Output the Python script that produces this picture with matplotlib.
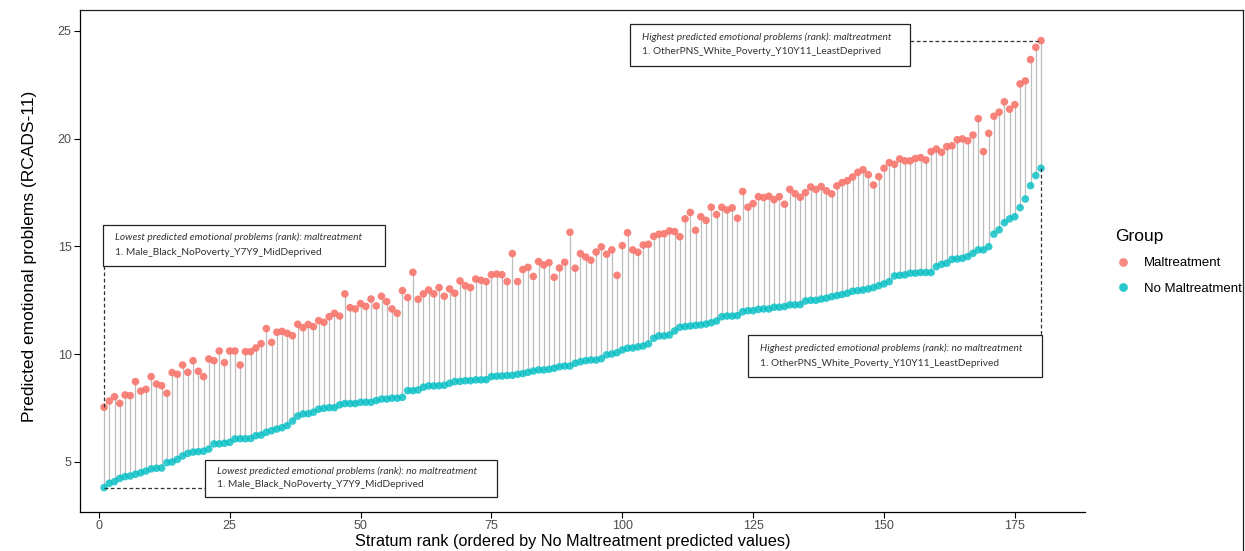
import numpy as np
import matplotlib.pyplot as plt
from matplotlib.lines import Line2D
from matplotlib.patches import Rectangle

plt.rcParams["font.family"] = ["Liberation Sans", "DejaVu Sans"]

# predicted RCADS-11 per stratum, ordered by the No Maltreatment prediction
maltreatment = [
    7.54, 7.83, 8.03, 7.72, 8.11, 8.08, 8.73, 8.29, 8.37, 8.96,
    8.62, 8.54, 8.19, 9.15, 9.07, 9.50, 9.16, 9.70, 9.21, 8.96,
    9.78, 9.70, 10.15, 9.61, 10.15, 10.15, 9.50, 10.12, 10.12, 10.29,
    10.49, 11.19, 10.55, 11.02, 11.06, 10.97, 10.86, 11.39, 11.23, 11.38,
    11.28, 11.56, 11.48, 11.74, 11.90, 11.77, 12.80, 12.16, 12.10, 12.35,
    12.22, 12.56, 12.24, 12.69, 12.44, 12.10, 11.90, 12.95, 12.63, 13.80,
    12.55, 12.80, 12.98, 12.80, 13.09, 12.69, 13.03, 12.83, 13.40, 13.18,
    13.09, 13.49, 13.43, 13.37, 13.69, 13.72, 13.69, 13.37, 14.67, 13.37,
    13.93, 14.03, 13.61, 14.30, 14.14, 14.25, 13.57, 14.00, 14.27, 15.66,
    13.99, 14.67, 14.51, 14.36, 14.74, 14.98, 14.64, 14.84, 13.66, 15.04,
    15.64, 14.84, 14.73, 15.07, 15.10, 15.47, 15.57, 15.59, 15.72, 15.69,
    15.45, 16.28, 16.58, 15.75, 16.38, 16.21, 16.82, 16.48, 16.82, 16.69,
    16.79, 16.31, 17.55, 16.82, 16.99, 17.31, 17.27, 17.33, 17.17, 17.31,
    16.96, 17.65, 17.45, 17.28, 17.50, 17.76, 17.64, 17.78, 17.58, 17.44,
    17.81, 17.96, 18.05, 18.22, 18.44, 18.56, 18.33, 17.85, 18.24, 18.63,
    18.89, 18.81, 19.06, 18.97, 18.97, 19.08, 19.12, 19.01, 19.40, 19.52,
    19.37, 19.63, 19.67, 19.95, 19.99, 19.90, 20.17, 20.93, 19.40, 20.25,
    21.04, 21.23, 21.71, 21.37, 21.58, 22.54, 22.68, 23.67, 24.24, 24.55,
]
no_maltreatment = [
    3.81, 4.01, 4.09, 4.24, 4.32, 4.35, 4.43, 4.50, 4.58, 4.68,
    4.71, 4.72, 4.97, 5.00, 5.12, 5.28, 5.40, 5.46, 5.48, 5.50,
    5.60, 5.84, 5.84, 5.87, 5.91, 6.07, 6.08, 6.08, 6.09, 6.22,
    6.25, 6.38, 6.45, 6.53, 6.59, 6.69, 6.90, 7.13, 7.23, 7.24,
    7.31, 7.45, 7.49, 7.52, 7.52, 7.65, 7.71, 7.71, 7.71, 7.77,
    7.77, 7.77, 7.85, 7.92, 7.92, 7.96, 7.96, 8.00, 8.31, 8.31,
    8.34, 8.47, 8.53, 8.53, 8.54, 8.56, 8.65, 8.73, 8.74, 8.77,
    8.77, 8.81, 8.81, 8.82, 8.96, 8.98, 8.99, 9.01, 9.02, 9.07,
    9.10, 9.16, 9.22, 9.27, 9.27, 9.30, 9.35, 9.42, 9.45, 9.45,
    9.58, 9.65, 9.70, 9.73, 9.73, 9.79, 9.97, 10.01, 10.07, 10.20,
    10.28, 10.29, 10.34, 10.38, 10.48, 10.74, 10.85, 10.85, 10.89, 11.08,
    11.25, 11.28, 11.31, 11.34, 11.36, 11.40, 11.46, 11.54, 11.74, 11.77,
    11.77, 11.79, 11.97, 12.02, 12.02, 12.08, 12.10, 12.10, 12.18, 12.18,
    12.21, 12.29, 12.29, 12.30, 12.47, 12.50, 12.50, 12.56, 12.60, 12.67,
    12.72, 12.77, 12.83, 12.92, 12.95, 12.98, 13.03, 13.09, 13.18, 13.26,
    13.37, 13.63, 13.66, 13.68, 13.76, 13.76, 13.79, 13.79, 13.79, 14.06,
    14.17, 14.22, 14.40, 14.42, 14.45, 14.53, 14.68, 14.84, 14.84, 14.99,
    15.57, 15.77, 16.10, 16.28, 16.38, 16.80, 17.20, 17.82, 18.29, 18.63,
]

groups = ["Maltreatment", "No Maltreatment"]
group_colors = ["#F8766D", "#00BFC4"]
x_ticks = [0, 25, 50, 75, 100, 125, 150, 175]
y_ticks = [5, 10, 15, 20, 25]

top_stratum = "OtherPNS_White_Poverty_Y10Y11_LeastDeprived"
bottom_stratum = "Male_Black_NoPoverty_Y7Y9_MidDeprived"

ranks = np.arange(1, len(no_maltreatment) + 1)
mal = np.array(maltreatment)
nomal = np.array(no_maltreatment)

fig = plt.figure(figsize=(12.45, 5.51), dpi=100)
ax = fig.add_axes([80 / 1245, 1 - 512 / 551, 1005 / 1245, 502 / 551])

ax.vlines(ranks, nomal, mal, color="#BDBDBD", linewidth=0.9, zorder=1)
ax.scatter(ranks, mal, s=30, color=group_colors[0], alpha=0.9,
           edgecolors="none", zorder=3)
ax.scatter(ranks, nomal, s=30, color=group_colors[1], alpha=0.8,
           edgecolors="none", zorder=3)

ax.set_xlim(-3.6, 188.4)
ax.set_ylim(2.68, 25.97)
ax.set_xticks(x_ticks)
ax.set_yticks(y_ticks)
for s in ["top", "right"]:
    ax.spines[s].set_visible(False)
for s in ["left", "bottom"]:
    ax.spines[s].set_linewidth(0.9)
ax.tick_params(direction="out", length=4, width=0.8, color="black",
               labelcolor="#4D4D4D", labelsize=9, pad=2)
ax.set_xlabel("Stratum rank (ordered by No Maltreatment predicted values)",
              fontsize=11.7)
ax.set_ylabel("Predicted emotional problems (RCADS-11)", fontsize=12.5)
ax.xaxis.set_label_coords(0.49, -0.043, transform=ax.transAxes)
ax.yaxis.set_label_coords(-0.043, 0.51, transform=ax.transAxes)


def note(x0, x1, y0, y1, title, label):
    ax.add_patch(Rectangle((x0, y0), x1 - x0, y1 - y0, facecolor="white",
                           edgecolor="#222222", linewidth=0.9, zorder=5))
    h = y1 - y0
    ax.text(x0 + 2.3, y1 - h * 0.31, title, fontsize=7.3, style="italic",
            family="Lato", color="#333333", va="center", zorder=6)
    ax.text(x0 + 2.3, y1 - h * 0.67, label, fontsize=7.3,
            family="Lato", color="#333333", va="center", zorder=6)


dash = dict(color="#333333", linestyle=(0, (3, 2)), linewidth=0.9, zorder=4)

# highest, maltreatment
note(101.5, 154.9, 23.38, 25.33,
     "Highest predicted emotional problems (rank): maltreatment", "1. " + top_stratum)
ax.plot([154.9, ranks[-1]], [mal[-1], mal[-1]], **dash)

# lowest, maltreatment
note(0.8, 54.7, 14.10, 16.0,
     "Lowest predicted emotional problems (rank): maltreatment", "1. " + bottom_stratum)
ax.plot([ranks[0], ranks[0]], [mal[0], 14.10], **dash)

# lowest, no maltreatment
note(20.3, 76.1, 3.38, 5.09,
     "Lowest predicted emotional problems (rank): no maltreatment", "1. " + bottom_stratum)
ax.plot([ranks[0], 20.3], [nomal[0], nomal[0]], **dash)

# highest, no maltreatment
note(124.0, 180.2, 8.94, 10.89,
     "Highest predicted emotional problems (rank): no maltreatment", "1. " + top_stratum)
ax.plot([ranks[-1], ranks[-1]], [nomal[-1], 10.89], **dash)

handles = [Line2D([], [], marker="o", linestyle="none", markersize=6.3,
                  markerfacecolor=c, markeredgecolor="none", alpha=0.85)
           for c in group_colors]
leg = fig.legend(handles, groups, title="Group", loc="upper left",
                 bbox_to_anchor=(1103 / 1245, 1 - 217 / 551), frameon=False,
                 fontsize=9.5, title_fontsize=12.5, alignment="left",
                 handletextpad=1.0, labelspacing=1.0, handlelength=1.2)

# screenshot frame along the top and right edge
fig.add_artist(Line2D([80 / 1245, 1243 / 1245], [1 - 10 / 551, 1 - 10 / 551],
                      transform=fig.transFigure, color="#222222", linewidth=0.9))
fig.add_artist(Line2D([1243 / 1245, 1243 / 1245], [0, 1 - 10 / 551],
                      transform=fig.transFigure, color="#222222", linewidth=0.9))

fig.savefig("out.png", dpi=100)
